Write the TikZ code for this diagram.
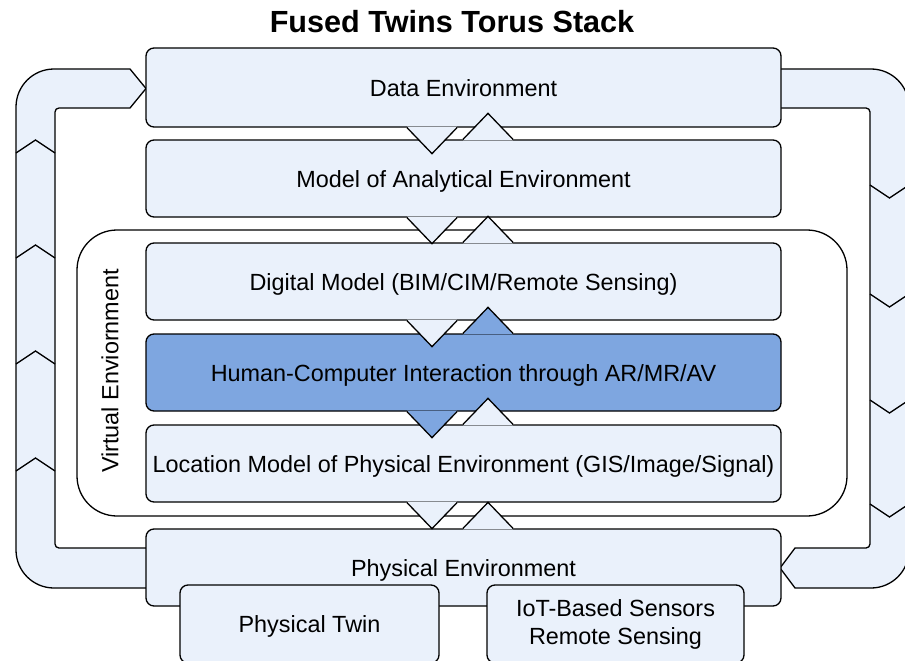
\documentclass[tikz,border=0pt]{standalone}
\usepackage{fontspec}
\setmainfont{Liberation Sans}
\usetikzlibrary{calc}
\definecolor{boxblue}{RGB}{234,241,251}
\definecolor{hciblue}{RGB}{126,166,224}
\tikzset{
  layer/.style={draw=black, line width=1.3pt, fill=boxblue, rounded corners=8pt, inner sep=0pt,
    minimum width=635pt, minimum height=77pt, text height=17pt, text depth=0pt,
    font=\fontsize{23.4}{28}\selectfont},
  band/.style={draw=black, fill=boxblue, line width=1.3pt},
  edge/.style={draw=black, line width=1.3pt},
}
% #1 upper layer, #2 lower layer, #3 upper fill, #4 lower fill
\newcommand{\tabpair}[4]{%
  \fill[#3] ($(#1.south)+(-56.5,-1)$) -- ($(#1.south)+(-31.5,26)$) -- ($(#1.south)+(-6.5,-1)$) -- cycle;
  \draw[edge] ($(#1.south)+(-56.5,0)$) -- ($(#1.south)+(-31.5,26)$) -- ($(#1.south)+(-6.5,0)$);
  \fill[#4] ($(#2.north)+(-0.5,1)$) -- ($(#2.north)+(24.5,-26)$) -- ($(#2.north)+(49.5,1)$) -- cycle;
  \draw[edge] ($(#2.north)+(-0.5,0)$) -- ($(#2.north)+(24.5,-26)$) -- ($(#2.north)+(49.5,0)$);
}
\begin{document}
\begin{tikzpicture}[x=1pt, y=-1pt]
\useasboundingbox (0,0) rectangle (905,661);
\fill[white] (0,0) rectangle (905,661);

\node[font=\fontsize{30.6}{36}\selectfont\bfseries] (title) at (452,22) {Fused Twins Torus Stack};

% left loop, up towards the data layer
\filldraw[band] (150,588) -- (54,588) arc[start angle=90, end angle=180, radius=38]
  -- (16,107) arc[start angle=180, end angle=270, radius=38]
  -- (130,69) -- (146,88.5) -- (130,108) -- (59,108) arc[start angle=270, end angle=180, radius=4]
  -- (55,544) arc[start angle=180, end angle=90, radius=4] -- (150,548);
\foreach \y in {140,245,351,458}
  \draw[edge] (16,\y+13) -- (35.5,\y) -- (55,\y+13);

% right loop, down towards the physical layer
\filldraw[band] (770,69) -- (871,69) arc[start angle=270, end angle=360, radius=38]
  -- (909,550) arc[start angle=0, end angle=90, radius=38]
  -- (795,588) -- (780,568) -- (795,548) -- (866,548) arc[start angle=90, end angle=0, radius=4]
  -- (870,112) arc[start angle=0, end angle=-90, radius=4] -- (770,108);
\foreach \y in {198,307,413,517}
  \draw[edge] (870,\y-13) -- (889.5,\y) -- (909,\y-13);

% virtual environment frame
\node[draw=black, line width=1.3pt, rounded corners=40pt, minimum width=770pt, minimum height=286pt] (venv) at (462,373) {};
\node[rotate=90, font=\fontsize{23.4}{28}\selectfont] (venvlabel) at (110,371) {Virtual Enviornment};

% layers
\node[layer, minimum height=79pt] (data) at (463.5,87.5) {Data Environment};
\node[layer] (model) at (463.5,178.5) {Model of Analytical Environment};
\node[layer] (digital) at (463.5,281.5) {Digital Model (BIM/CIM/Remote Sensing)};
\node[layer, fill=hciblue] (hci) at (463.5,372.5) {Human-Computer Interaction through AR/MR/AV};
\node[layer] (location) at (463.5,463.5) {Location Model of Physical Environment (GIS/Image/Signal)};
\node[layer] (physical) at (463.5,567.5) {Physical Environment};
\node[layer, minimum width=259pt, minimum height=78pt] (twin) at (309.5,624) {Physical Twin};
\node[layer, minimum width=257pt, minimum height=78pt, align=center, text height=, text depth=] (iot) at (615.5,624) {IoT-Based Sensors\\Remote Sensing};

% tabs between layers
\tabpair{data}{model}{boxblue}{boxblue}
\tabpair{model}{digital}{boxblue}{boxblue}
\tabpair{digital}{hci}{boxblue}{hciblue}
\tabpair{hci}{location}{hciblue}{boxblue}
\tabpair{location}{physical}{boxblue}{boxblue}
\end{tikzpicture}
\end{document}
